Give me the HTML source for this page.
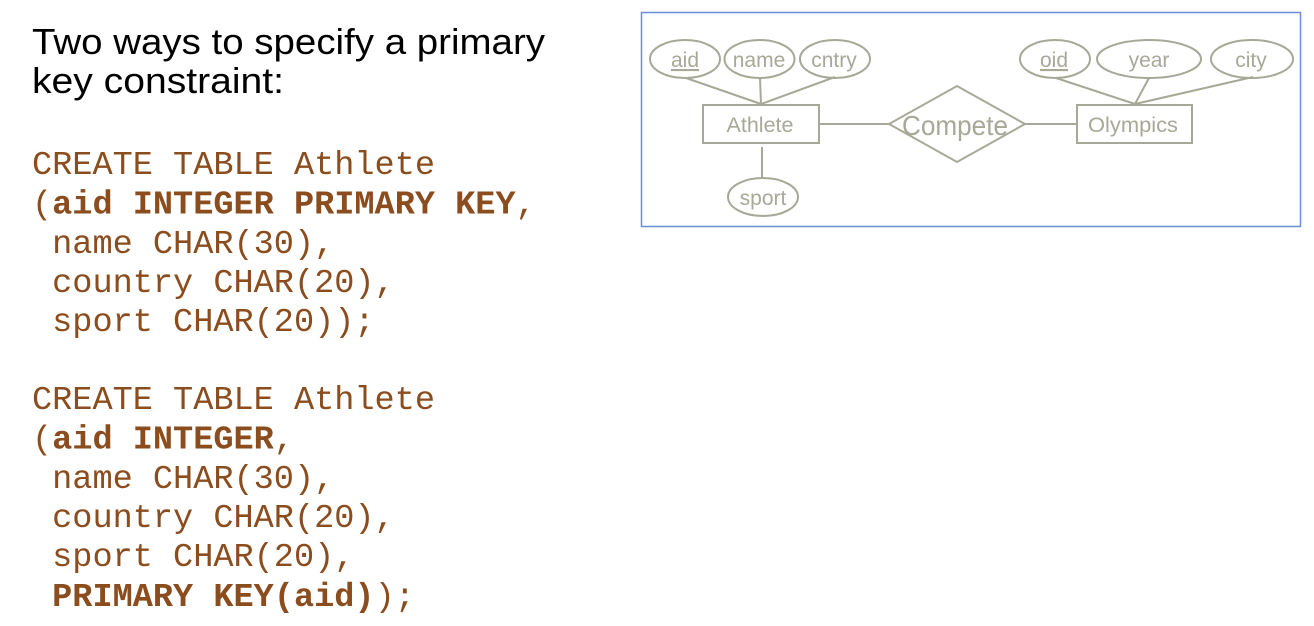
<!DOCTYPE html>
<html><head><meta charset="utf-8"><style>
html,body{margin:0;padding:0;background:#fff;width:1314px;height:626px;overflow:hidden}
svg{display:block}
.c{font-family:"Liberation Mono",monospace;font-size:33.6px;fill:#8b4c1e;white-space:pre}
.b{font-weight:bold}
.t{font-family:"Liberation Sans",sans-serif;font-size:36px;fill:#000}
.d{font-family:"Liberation Sans",sans-serif;fill:#a8a898}
.s{stroke:#a8a898;stroke-width:2;fill:none}
</style></head><body>
<svg width="1314" height="626" xmlns="http://www.w3.org/2000/svg" xml:space="preserve">
<text class="t" x="32" y="54" textLength="513" lengthAdjust="spacingAndGlyphs">Two ways to specify a primary</text>
<text class="t" x="32" y="93" textLength="252" lengthAdjust="spacingAndGlyphs">key constraint:</text>

<text class="c" x="32" y="174">CREATE TABLE Athlete</text>
<text class="c" x="32" y="213.5">(<tspan class="b">aid INTEGER PRIMARY KEY</tspan>,</text>
<text class="c" x="32" y="253"> name CHAR(30),</text>
<text class="c" x="32" y="292"> country CHAR(20),</text>
<text class="c" x="32" y="331"> sport CHAR(20));</text>

<text class="c" x="32" y="409">CREATE TABLE Athlete</text>
<text class="c" x="32" y="448.5">(<tspan class="b">aid INTEGER</tspan>,</text>
<text class="c" x="32" y="488"> name CHAR(30),</text>
<text class="c" x="32" y="527"> country CHAR(20),</text>
<text class="c" x="32" y="566"> sport CHAR(20),</text>
<text class="c" x="32" y="606"> <tspan class="b">PRIMARY KEY(aid)</tspan>);</text>

<rect x="641.5" y="12.5" width="659" height="214" fill="#fff" stroke="#6a8fd8" stroke-width="1.5"/>
<g class="s">
<ellipse cx="685" cy="59" rx="35" ry="19"/>
<ellipse cx="759.5" cy="59" rx="35" ry="19"/>
<ellipse cx="835" cy="59" rx="35" ry="19"/>
<ellipse cx="1055" cy="59" rx="35" ry="19"/>
<ellipse cx="1149" cy="59" rx="52" ry="19"/>
<ellipse cx="1252" cy="59" rx="41" ry="19"/>
<ellipse cx="763" cy="197" rx="35" ry="19"/>
<rect x="703" y="105" width="116" height="38"/>
<rect x="1077" y="105" width="115" height="38"/>
<polygon points="889,124 957,86 1025,124 957,162"/>
<line x1="686" y1="78" x2="761" y2="104"/>
<line x1="760" y1="78" x2="761" y2="104"/>
<line x1="835" y1="77" x2="761" y2="104"/>
<line x1="1056" y1="78" x2="1135" y2="104"/>
<line x1="1149" y1="78" x2="1135" y2="104"/>
<line x1="1253" y1="77" x2="1135" y2="104"/>
<line x1="819" y1="124" x2="889" y2="124"/>
<line x1="1025" y1="124" x2="1077" y2="124"/>
<line x1="762" y1="147" x2="762" y2="178"/>
</g>
<g class="d" font-size="21" text-anchor="middle">
<text x="685" y="67" text-decoration="underline">aid</text>
<text x="759" y="67">name</text>
<text x="834" y="67">cntry</text>
<text x="1054" y="67" text-decoration="underline">oid</text>
<text x="1149" y="67">year</text>
<text x="1251" y="67">city</text>
<text x="763" y="205">sport</text>
<text x="760" y="132" textLength="67" lengthAdjust="spacingAndGlyphs">Athlete</text>
<text x="1133" y="132" textLength="90" lengthAdjust="spacingAndGlyphs">Olympics</text>
<text x="955" y="135" font-size="28" textLength="106" lengthAdjust="spacingAndGlyphs">Compete</text>
</g>
</svg>
</body></html>
